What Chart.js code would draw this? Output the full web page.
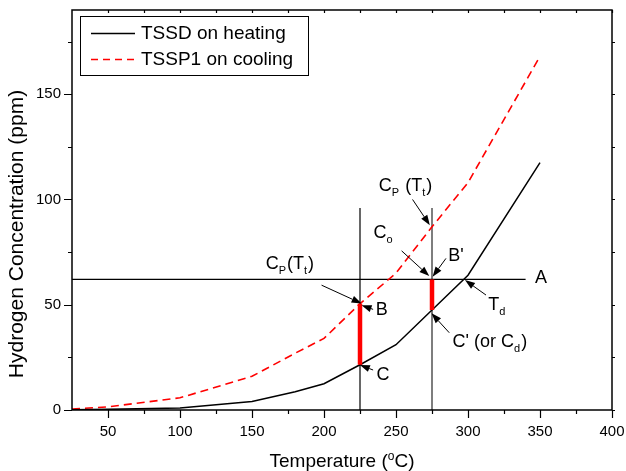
<!DOCTYPE html>
<html>
<head>
<meta charset="utf-8">
<script src="https://cdn.jsdelivr.net/npm/chart.js@4.4.0/dist/chart.umd.min.js"></script>
<style>
  html, body { margin: 0; padding: 0; background: #fff; }
</style>
</head>
<body>
<canvas id="chart" width="626" height="471"></canvas>
<script>
const temps = [25, 50, 100, 150, 180, 200, 225, 250, 275, 300, 350]
const tssdHeating = [0.1, 0.3, 0.9, 4.0, 8.7, 12.5, 21.5, 31, 47.5, 64, 117.5]
const tsspCooling = [0.5, 1.5, 5.8, 16, 27, 34, 50.5, 65, 87, 108, 168]
const seriesLabels = ['TSSD on heating', 'TSSP1 on cooling']

// horizontal level A and the two marker temperatures
const levelA = 62
const levelAFrom = 25
const levelATo = 340
const markerTemps = [225, 275]
const markerTop = 96
// red bars between the curves (low / high ends)
const barLow = [21.5, 47.5]
const barHigh = [50.5, 62]

const xTickLabels = [50, 100, 150, 200, 250, 300, 350, 400]
const yTickLabels = [0, 50, 100, 150]

// text notes: parts are [text, isSubscript]
const notes = [
  { parts: [['C'], ['P', 1], [' (T'], ['t', 1], [')']], x: 238.1, y: 104.1 },
  { parts: [['C'], ['o', 1]], x: 234.3, y: 81.5 },
  { parts: [["B'"]], x: 286.3, y: 70.9 },
  { parts: [['A']], x: 346.6, y: 60.1 },
  { parts: [['T'], ['d', 1]], x: 314.1, y: 47.5 },
  { parts: [["C' (or C"], ['d', 1], [')']], x: 289.3, y: 30.0 },
  { parts: [['B']], x: 236.0, y: 45.1 },
  { parts: [['C']], x: 236.5, y: 14.2 },
  { parts: [['C'], ['P', 1], ['(T'], ['t', 1], [')']], x: 159.5, y: 66.8 }
]
// arrows: tail x, tail y, tip x, tip y
const arrows = [
  [261.5, 100.0, 273.5, 87.8],
  [253.9, 75.6, 273.1, 63.6],
  [284.7, 72.0, 275.4, 63.3],
  [312.5, 54.6, 297.9, 61.7],
  [287.0, 36.7, 274.7, 45.9],
  [234.1, 47.8, 226.1, 49.8],
  [234.1, 19.0, 224.9, 21.4],
  [198.3, 59.3, 226.1, 50.6]
]

const FONT = 'Liberation Sans, Arial, Helvetica, sans-serif'
const toPts = (xs, ys) => xs.map((x, i) => ({ x: x, y: ys[i] }))
const seg = (x0, y0, x1, y1) => [{ x: x0, y: y0 }, { x: x1, y: y1 }]

function drawParts(ctx, parts, x, y, size) {
  let cx = x
  parts.forEach(p => {
    const sub = p[1]
    ctx.font = (sub ? Math.round(size * 0.6) : size) + 'px ' + FONT
    ctx.fillText(p[0], cx, sub ? y + size * 0.28 : y)
    cx += ctx.measureText(p[0]).width + (sub ? 1 : 0)
  })
}

function drawArrow(ctx, x0, y0, x1, y1) {
  const ang = Math.atan2(y1 - y0, x1 - x0)
  const len = 10
  const hw = 3.6
  const bx = x1 - len * Math.cos(ang)
  const by = y1 - len * Math.sin(ang)
  ctx.beginPath()
  ctx.moveTo(x0, y0)
  ctx.lineTo(bx, by)
  ctx.lineWidth = 1
  ctx.strokeStyle = '#000'
  ctx.stroke()
  ctx.beginPath()
  ctx.moveTo(x1, y1)
  ctx.lineTo(bx - hw * Math.sin(ang), by + hw * Math.cos(ang))
  ctx.lineTo(bx + hw * Math.sin(ang), by - hw * Math.cos(ang))
  ctx.closePath()
  ctx.fillStyle = '#000'
  ctx.fill()
}

const decorations = {
  id: 'decorations',
  afterDraw(chart) {
    const { ctx, chartArea: a, scales } = chart
    const xs = scales.x
    const ys = scales.y
    ctx.save()
    ctx.strokeStyle = '#000'
    ctx.lineWidth = 1.5
    ctx.strokeRect(a.left, a.top, a.right - a.left, a.bottom - a.top)

    // ticks
    ctx.lineWidth = 1.2
    ctx.beginPath()
    for (let v = 50; v <= 400; v += 25) {
      const px = Math.round(xs.getPixelForValue(v)) + 0.5
      const l = v % 50 === 0 ? 8 : 4
      ctx.moveTo(px, a.bottom)
      ctx.lineTo(px, a.bottom + l)
      ctx.moveTo(px, a.top)
      ctx.lineTo(px, a.top + 3)
    }
    for (let v = 0; v <= 175; v += 25) {
      const py = Math.round(ys.getPixelForValue(v)) + 0.5
      const l = v % 50 === 0 ? 8 : 4
      ctx.moveTo(a.left, py)
      ctx.lineTo(a.left - l, py)
      ctx.moveTo(a.right, py)
      ctx.lineTo(a.right + 3, py)
    }
    ctx.stroke()

    // legend
    ctx.lineWidth = 1
    ctx.strokeStyle = '#000'
    ctx.strokeRect(80.5, 16.5, 228, 59)
    ctx.textBaseline = 'middle'
    ctx.textAlign = 'left'
    ctx.fillStyle = '#000'
    ctx.font = '19px ' + FONT
    ctx.beginPath()
    ctx.lineWidth = 1.5
    ctx.moveTo(91, 33.5)
    ctx.lineTo(135, 33.5)
    ctx.stroke()
    ctx.beginPath()
    ctx.strokeStyle = '#ff0000'
    ctx.setLineDash([7, 5])
    ctx.moveTo(91, 59.5)
    ctx.lineTo(135, 59.5)
    ctx.stroke()
    ctx.setLineDash([])
    ctx.fillText(seriesLabels[0], 141, 34)
    ctx.fillText(seriesLabels[1], 141, 60)

    // axis titles
    ctx.font = '21px ' + FONT
    ctx.textAlign = 'center'
    ctx.save()
    ctx.translate(17, 234)
    ctx.rotate(-Math.PI / 2)
    ctx.fillText('Hydrogen Concentration (ppm)', 0, 0)
    ctx.restore()

    ctx.textAlign = 'left'
    ctx.textBaseline = 'alphabetic'
    const t1 = 'Temperature ('
    const t2 = 'C)'
    ctx.font = '19px ' + FONT
    const w1 = ctx.measureText(t1).width
    const w2 = ctx.measureText(t2).width
    ctx.font = '12px ' + FONT
    const wo = ctx.measureText('o').width
    let tx = 342 - (w1 + wo + w2) / 2
    const ty = 467
    ctx.font = '19px ' + FONT
    ctx.fillText(t1, tx, ty)
    tx += w1
    ctx.font = '12px ' + FONT
    ctx.fillText('o', tx, ty - 7)
    tx += wo
    ctx.font = '19px ' + FONT
    ctx.fillText(t2, tx, ty)

    // notes
    notes.forEach(n => {
      drawParts(ctx, n.parts, xs.getPixelForValue(n.x), ys.getPixelForValue(n.y), 18)
    })
    arrows.forEach(r => {
      drawArrow(ctx, xs.getPixelForValue(r[0]), ys.getPixelForValue(r[1]),
        xs.getPixelForValue(r[2]), ys.getPixelForValue(r[3]))
    })
    ctx.restore()
  }
}

const ctx = document.getElementById('chart').getContext('2d')

new Chart(ctx, {
  type: 'line',
  data: {
    datasets: [
      { data: seg(markerTemps[0], barLow[0], markerTemps[0], barHigh[0]), borderColor: '#ff0000', borderWidth: 4.5 },
      { data: seg(markerTemps[1], barLow[1], markerTemps[1], barHigh[1]), borderColor: '#ff0000', borderWidth: 4.5 },
      { label: seriesLabels[0], data: toPts(temps, tssdHeating), borderColor: '#000', borderWidth: 1.5 },
      { label: seriesLabels[1], data: toPts(temps, tsspCooling), borderColor: '#ff0000', borderWidth: 1.6, borderDash: [8, 5] },
      { data: seg(levelAFrom, levelA, levelATo, levelA), borderColor: '#000', borderWidth: 1.2 },
      { data: seg(markerTemps[0], 0, markerTemps[0], markerTop), borderColor: '#000', borderWidth: 1.2 },
      { data: seg(markerTemps[1], 0, markerTemps[1], markerTop), borderColor: '#707070', borderWidth: 1.8 }
    ]
  },
  options: {
    responsive: false,
    animation: false,
    layout: { padding: { top: 10, right: 14, left: 0, bottom: 0 } },
    elements: { point: { radius: 0 }, line: { tension: 0 } },
    plugins: { legend: { display: false }, tooltip: { enabled: false } },
    scales: {
      x: {
        type: 'linear',
        min: 25,
        max: 400,
        afterFit: s => { s.height = 61; s.paddingLeft = 0; s.paddingRight = 0 },
        grid: { display: false, drawTicks: false },
        border: { display: false },
        ticks: {
          stepSize: 25,
          autoSkip: false,
          maxRotation: 0,
          padding: 13,
          color: '#000',
          font: { family: FONT, size: 15 },
          callback: v => xTickLabels.includes(v) ? v : ''
        }
      },
      y: {
        min: 0,
        max: 190,
        afterFit: s => { s.width = 72; s.paddingTop = 0; s.paddingBottom = 0 },
        grid: { display: false, drawTicks: false },
        border: { display: false },
        ticks: {
          stepSize: 25,
          autoSkip: false,
          padding: 11,
          color: '#000',
          font: { family: FONT, size: 15 },
          callback: v => yTickLabels.includes(v) ? v : ''
        }
      }
    }
  },
  plugins: [decorations]
})
</script>
</body>
</html>
